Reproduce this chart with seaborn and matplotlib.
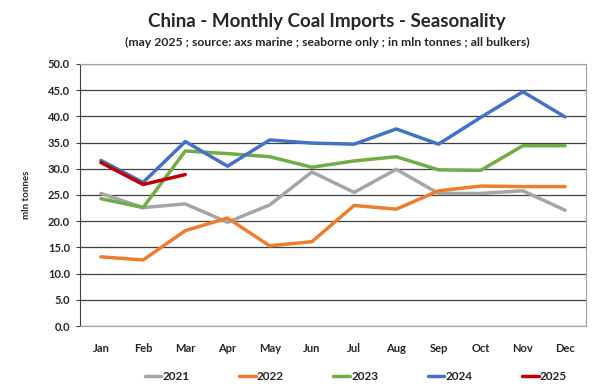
import pandas as pd
import numpy as np
import matplotlib.pyplot as plt
import seaborn as sns

months = ['Jan', 'Feb', 'Mar', 'Apr', 'May', 'Jun', 'Jul', 'Aug', 'Sep', 'Oct', 'Nov', 'Dec']
y2021 = [25.3, 22.6, 23.3, 19.8, 23.1, 29.4, 25.5, 29.9, 25.3, 25.3, 25.8, 22.1]
y2022 = [13.2, 12.6, 18.2, 20.6, 15.3, 16.1, 23.0, 22.3, 25.8, 26.7, 26.6, 26.6]
y2023 = [24.3, 22.6, 33.4, 32.9, 32.3, 30.3, 31.5, 32.3, 29.8, 29.7, 34.4, 34.4]
y2024 = [31.6, 27.4, 35.2, 30.5, 35.5, 34.9, 34.7, 37.6, 34.7, 39.8, 44.7, 39.9]
y2025 = [31.2, 27.0, 28.9]

series = {'2021': y2021, '2022': y2022, '2023': y2023, '2024': y2024, '2025': y2025}
rows = []
for yr, vals in series.items():
    for i, v in enumerate(vals):
        rows.append({'month': i, 'year': yr, 'value': v})
df = pd.DataFrame(rows)

colors = {'2021': '#A5A5A5', '2022': '#ED7D31', '2023': '#70AD47', '2024': '#4472C4', '2025': '#C00000'}

sns.set_style('white')
plt.rcParams['font.family'] = ['Lato', 'DejaVu Sans']

fig = plt.figure(figsize=(6, 3.9), dpi=100)
ax = fig.add_axes([0.133, 0.164, 0.844, 0.672])

sns.lineplot(data=df, x='month', y='value', hue='year', palette=colors,
             linewidth=2.5, ax=ax, zorder=3)

ax.set_xlim(-0.5, 11.5)
ax.set_ylim(0, 50)
ax.set_yticks(np.arange(0, 50.1, 5))
ax.set_yticklabels([f'{v:.1f}' for v in np.arange(0, 50.1, 5)], fontsize=8, fontweight='bold')
ax.set_xticks(range(12))
ax.set_xticklabels(months, fontsize=8, fontweight='bold')
ax.tick_params(axis='x', length=0, pad=12)
ax.tick_params(axis='y', length=3, left=True, color='#404040', pad=4)
ax.grid(axis='y', color='#404040', linewidth=0.9)
ax.set_axisbelow(True)
for s in ['top', 'right', 'bottom']:
    ax.spines[s].set_color('#A0A0A0')
ax.spines['left'].set_color('#404040')
ax.set_xlabel('')
ax.set_ylabel('mln tonnes', fontsize=7, fontweight='bold', labelpad=12)

leg = ax.legend(loc='upper center', bbox_to_anchor=(0.545, -0.13), ncol=5, frameon=False,
                fontsize=8.5, handlelength=1.4, handletextpad=0.1, columnspacing=4.2)
for t in leg.get_texts():
    t.set_fontweight('bold')

fig.text(0.545, 0.945, 'China - Monthly Coal Imports - Seasonality', ha='center', va='center',
         fontsize=13.5, fontweight='bold')
fig.text(0.545, 0.892, '(may 2025 ; source: axs marine ; seaborne only ; in mln tonnes ; all bulkers)',
         ha='center', va='center', fontsize=8.8, fontweight='bold')

fig.savefig('out.png', dpi=100)
